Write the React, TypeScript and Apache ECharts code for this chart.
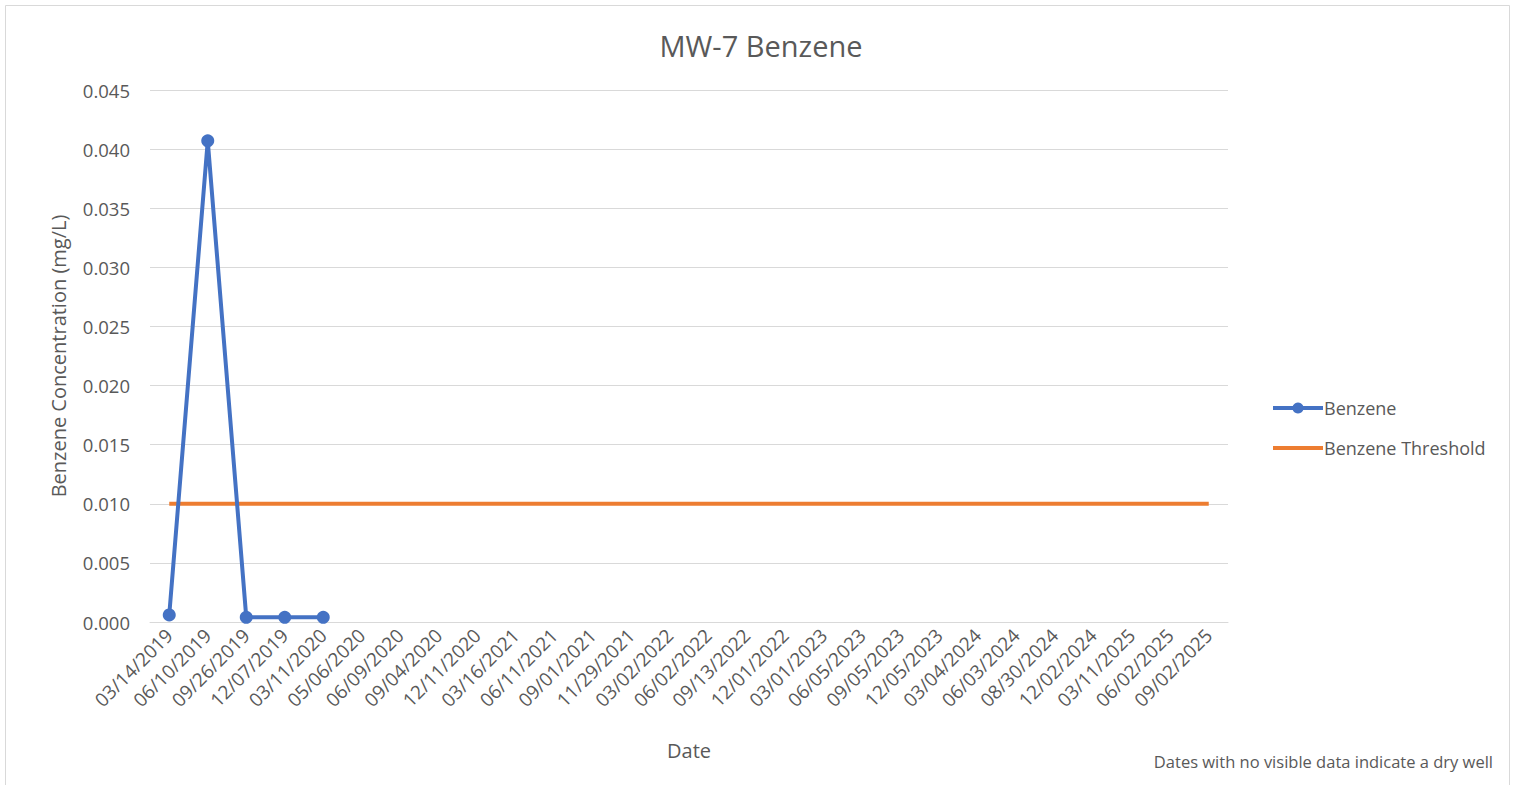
import React, { useEffect, useRef } from "react";
import * as echarts from "echarts";

const dates = [
  "03/14/2019", "06/10/2019", "09/26/2019", "12/07/2019", "03/11/2020", "05/06/2020",
  "06/09/2020", "09/04/2020", "12/11/2020", "03/16/2021", "06/11/2021", "09/01/2021",
  "11/29/2021", "03/02/2022", "06/02/2022", "09/13/2022", "12/01/2022", "03/01/2023",
  "06/05/2023", "09/05/2023", "12/05/2023", "03/04/2024", "06/03/2024", "08/30/2024",
  "12/02/2024", "03/11/2025", "06/02/2025", "09/02/2025",
];
const benzene: (number | null)[] = [
  0.0006, 0.0407, 0.0004, 0.0004, 0.0004, null, null, null, null, null, null, null, null, null,
  null, null, null, null, null, null, null, null, null, null, null, null, null, null,
];
const threshold: number[] = dates.map(() => 0.01);

const FONT = "'Open Sans', 'Noto Sans', sans-serif";
const GRAY = "#595959";

export default function App() {
  const ref = useRef<HTMLDivElement>(null);
  useEffect(() => {
    if (!ref.current) return;
    const chart = echarts.init(ref.current, undefined, { renderer: "svg" });
    chart.setOption({
      animation: false,
      backgroundColor: "#fff",
      textStyle: { fontFamily: FONT },
      title: {
        text: "MW-7 Benzene",
        left: 756,
        textAlign: "center",
        top: 26,
        textStyle: { fontSize: 29, fontWeight: "normal", color: GRAY, fontFamily: FONT },
      },
      grid: { left: 150, right: 288, top: 90, bottom: 163 },
      legend: {
        orient: "vertical",
        left: 1266,
        top: 394,
        itemGap: 22,
        itemWidth: 50,
        itemHeight: 14,
        lineStyle: { width: 4 },
        textStyle: { fontSize: 18, color: GRAY, fontFamily: FONT, padding: [0, 0, 0, -4] },
        data: [
          { name: "Benzene" },
          { name: "Benzene Threshold", itemStyle: { opacity: 0 } },
        ],
      },
      xAxis: {
        type: "category",
        data: dates,
        name: "Date",
        nameLocation: "middle",
        nameGap: 118,
        nameTextStyle: { fontSize: 20, color: GRAY },
        axisLine: { lineStyle: { color: "#d9d9d9", width: 1 } },
        axisTick: { show: false },
        axisLabel: { rotate: 45, fontSize: 19, color: GRAY, interval: 0, margin: 10 },
      },
      yAxis: {
        type: "value",
        min: 0,
        max: 0.045,
        interval: 0.005,
        name: "Benzene Concentration (mg/L)",
        nameLocation: "middle",
        nameGap: 82,
        nameTextStyle: { fontSize: 20, color: GRAY },
        axisLine: { show: false },
        axisTick: { show: false },
        axisLabel: {
          fontSize: 18.5,
          color: GRAY,
          margin: 20,
          formatter: (v: number) => v.toFixed(3),
        },
        splitLine: { lineStyle: { color: "#d9d9d9", width: 1 } },
      },
      graphic: [
        {
          type: "rect",
          shape: { x: 5.5, y: 5.5, width: 1504, height: 790 },
          style: { fill: "none", stroke: "#d9d9d9", lineWidth: 1 },
          silent: true,
        },
        {
          type: "text",
          right: 23,
          top: 753,
          style: {
            text: "Dates with no visible data indicate a dry well",
            fontSize: 16.5,
            fill: GRAY,
            fontFamily: FONT,
          },
        },
      ],
      series: [
        {
          name: "Benzene Threshold",
          type: "line",
          data: threshold,
          symbol: "none",
          lineStyle: { color: "#ED7D31", width: 4 },
          itemStyle: { color: "#ED7D31" },
          z: 2,
        },
        {
          name: "Benzene",
          type: "line",
          data: benzene,
          symbol: "circle",
          symbolSize: 13,
          connectNulls: false,
          lineStyle: { color: "#4472C4", width: 4 },
          itemStyle: { color: "#4472C4" },
          z: 3,
        },
      ],
    });
    return () => chart.dispose();
  }, []);
  return (
    <div
      ref={ref}
      style={{ position: "absolute", left: 0, top: 0, width: 1516, height: 785 }}
    />
  );
}
